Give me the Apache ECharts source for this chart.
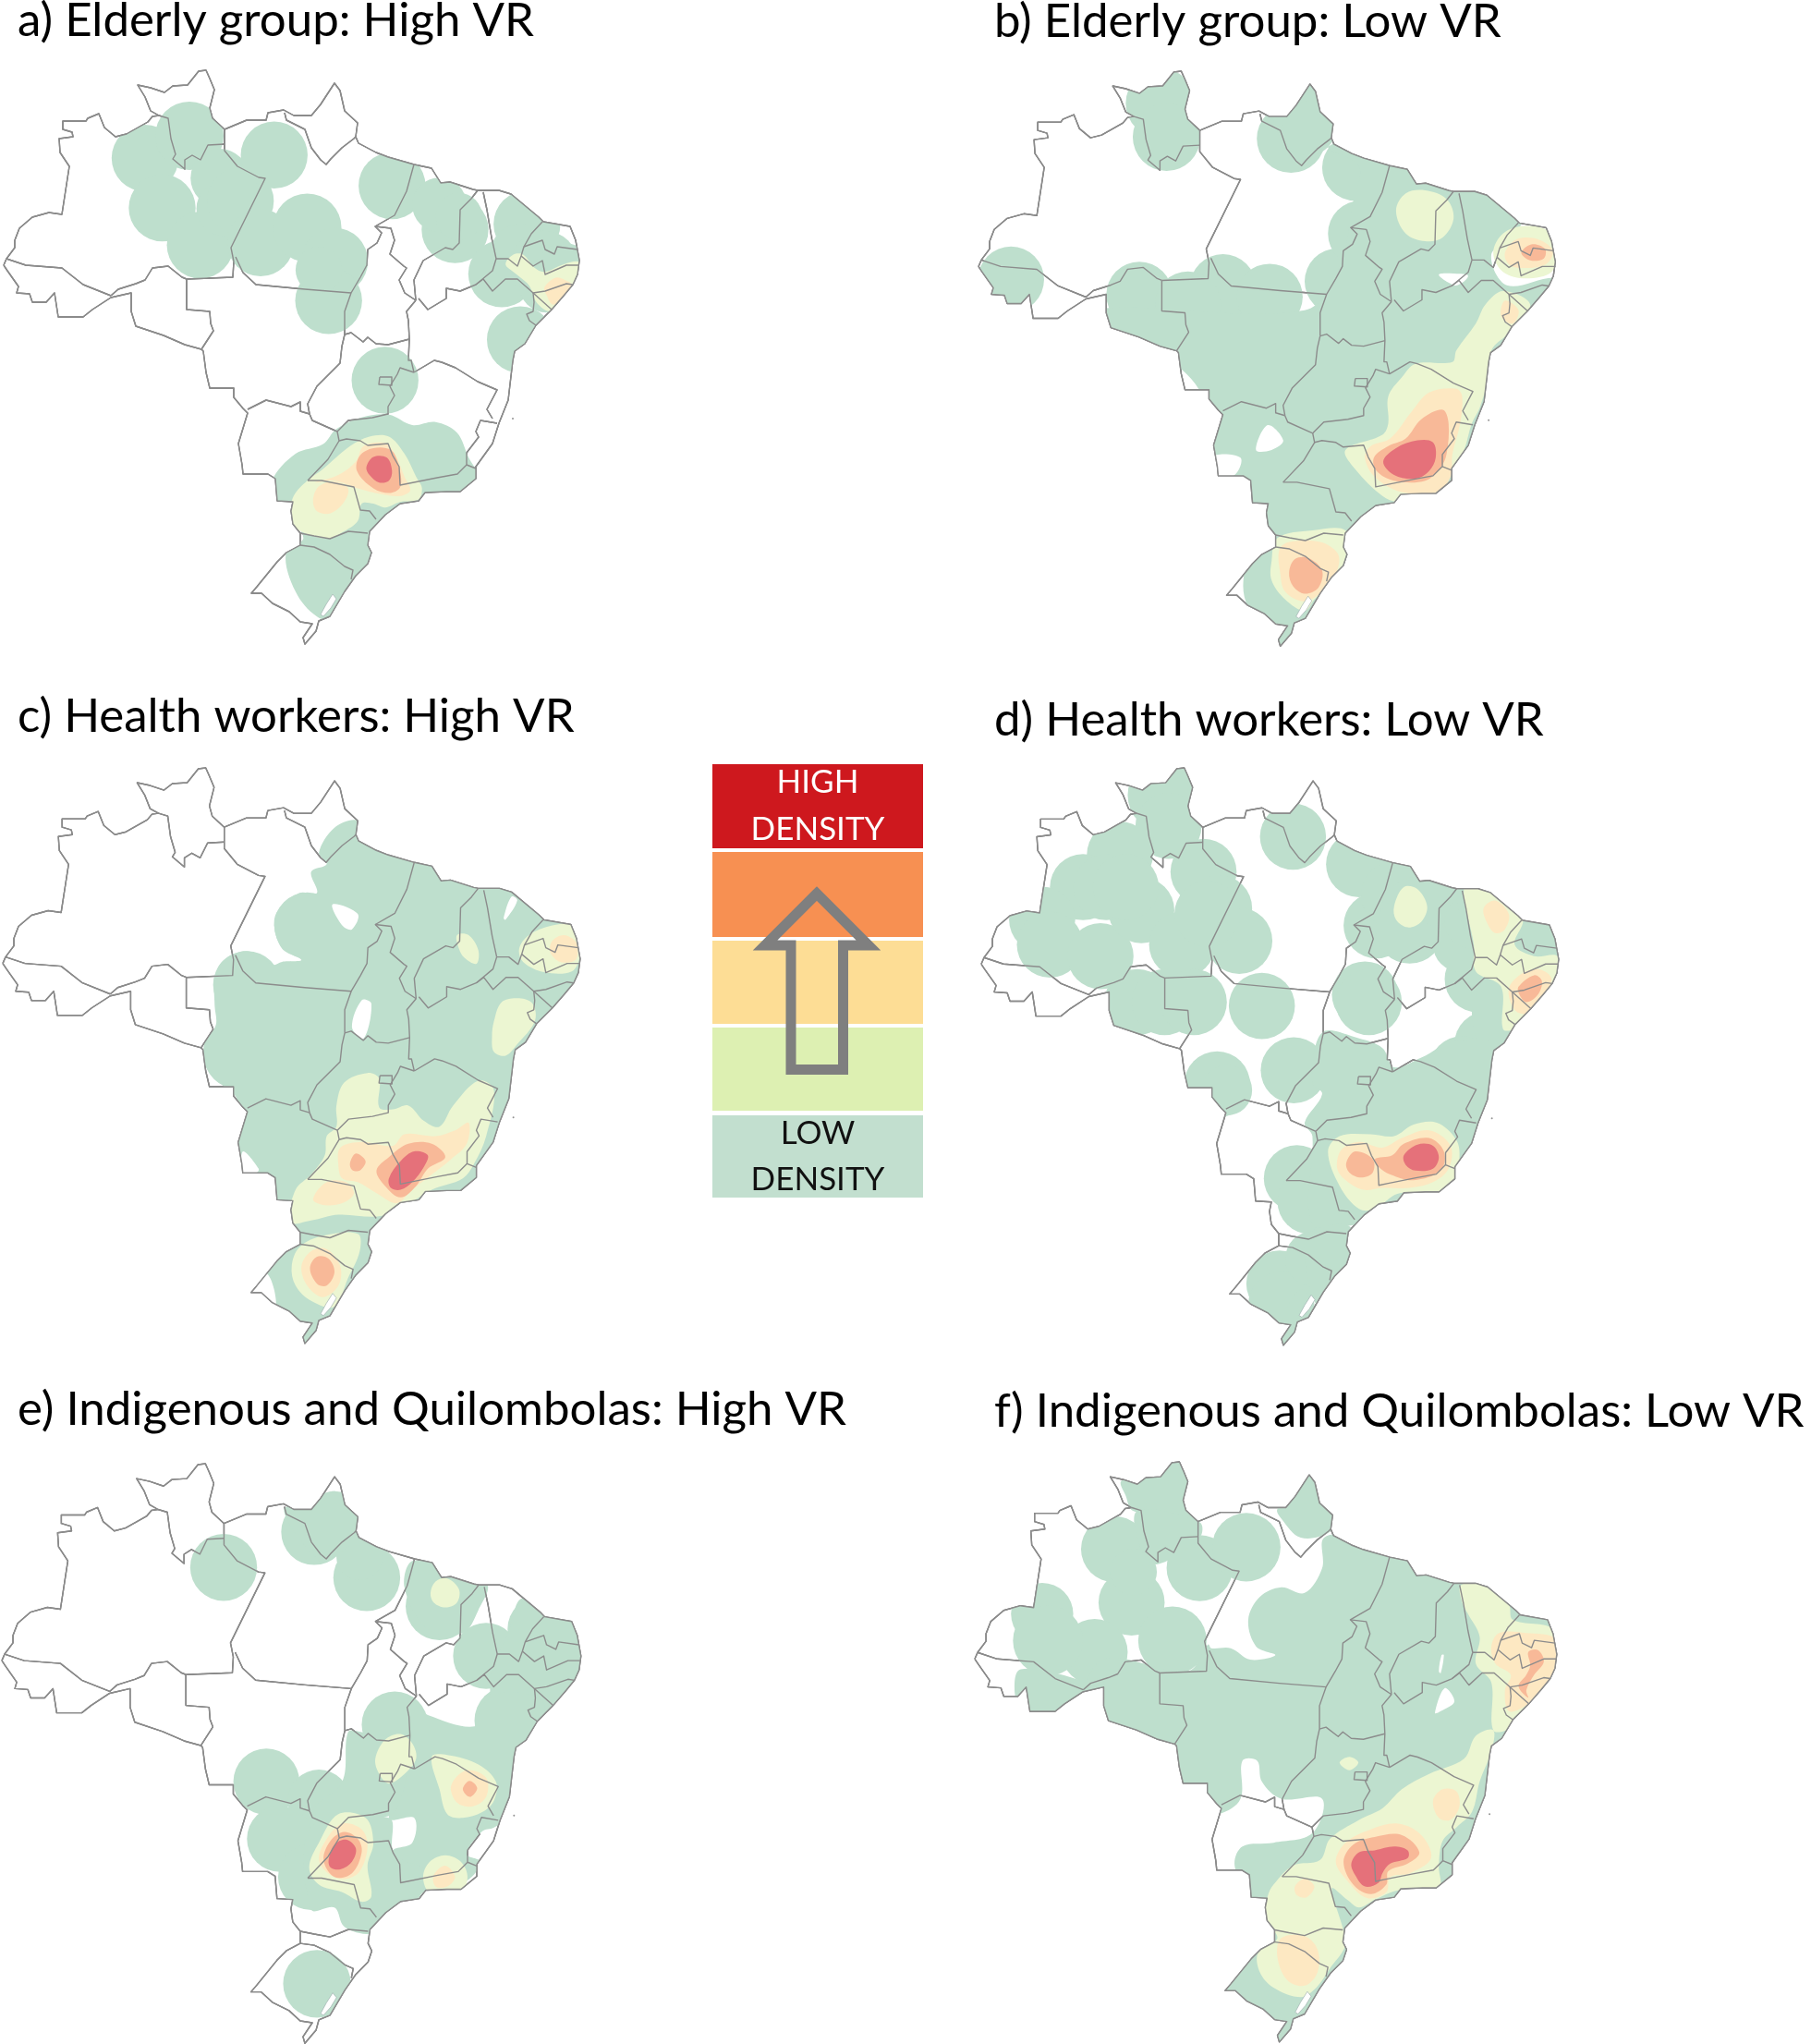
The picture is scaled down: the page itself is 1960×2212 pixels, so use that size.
<!DOCTYPE html>
<html><head><meta charset="utf-8">
<style>html,body{margin:0;padding:0;background:#fff}#c{width:1960px;height:2212px}</style>
<script src="https://cdn.jsdelivr.net/npm/echarts@6/dist/echarts.min.js"></script>
</head><body><div id="c"></div>
<script>
// ---------- titles and legend ----------
const panelTitles = ['a) Elderly group: High VR','b) Elderly group: Low VR','c) Health workers: High VR','d) Health workers: Low VR','e) Indigenous and Quilombolas: High VR','f) Indigenous and Quilombolas: Low VR'];
const legendColors = ['#CE181E','#F79052','#FDDD95','#DDF0B2','#C2DFCF'];
const legendLabels = ['HIGH\nDENSITY','','','','LOW\nDENSITY'];
const densityColors = {'-1':'#ffffff',0:'#BEDFCD',1:'#ECF6D2',2:'#FDE8C2',3:'#F8B998',4:'#E5717A'};

// ---------- base map of Brazil (map units) ----------
const brazilOutline = [[4,287],[7,280],[16,268],[16,260],[21,247],[35,235],[53,230],[67,232],[75,180],[65,165],[64,150],[79,148],[78,143],[68,140],[68,131],[93,131],[95,128],[107,123],[113,138],[125,148],[137,145],[160,132],[165,126],[172,125],[163,120],[157,105],[149,92],[163,95],[178,100],[187,93],[203,92],[215,77],[223,76],[227,85],[232,97],[227,117],[230,128],[243,140],[267,130],[288,130],[290,122],[307,119],[318,125],[337,125],[347,113],[362,90],[368,98],[373,120],[387,133],[385,148],[388,155],[407,165],[420,170],[448,178],[467,182],[477,198],[487,197],[512,205],[517,206],[540,206],[553,210],[583,235],[588,240],[617,245],[623,260],[627,282],[625,297],[620,308],[610,320],[597,335],[580,352],[568,372],[557,380],[555,390],[550,433],[540,458],[533,480],[515,505],[515,518],[498,532],[483,532],[460,533],[453,542],[433,545],[417,557],[400,575],[398,590],[402,598],[398,610],[385,623],[373,640],[357,667],[345,672],[342,683],[330,697],[328,690],[338,675],[325,673],[313,662],[295,653],[283,642],[272,642],[278,635],[300,608],[310,598],[325,590],[325,577],[317,567],[315,553],[317,543],[300,542],[298,518],[290,513],[263,513],[262,503],[258,480],[268,447],[263,442],[253,430],[253,420],[227,420],[223,403],[220,380],[218,378],[200,373],[177,363],[147,353],[142,337],[142,317],[120,322],[100,335],[90,343],[63,343],[59,317],[50,327],[35,327],[32,318],[18,317],[20,310],[8,293],[4,287]];
const stateBorders = [
 [[7,280],[28,287],[67,290],[90,308],[120,320]],
 [[120,320],[128,313],[147,307],[157,303],[165,290],[182,288],[197,300],[202,302]],
 [[202,302],[252,300],[253,283],[250,268],[287,193],[280,192],[257,180],[243,163],[243,140]],
 [[172,125],[182,128],[185,150],[190,167],[187,172],[200,183],[200,173],[208,168],[217,173],[225,157],[243,156]],
 [[202,302],[202,335],[227,337],[228,350],[231,358],[218,378]],
 [[255,278],[263,295],[277,308],[330,313],[380,317]],
 [[308,122],[310,130],[320,135],[330,140],[337,160],[347,173],[353,178],[358,172],[370,160],[383,150],[385,148]],
 [[448,178],[440,207],[427,233],[406,245],[413,252],[408,263],[398,270],[397,287],[390,300],[380,317],[373,337],[373,362]],
 [[406,245],[423,247],[427,260],[422,275],[437,288],[440,290],[432,303],[438,317],[450,325]],
 [[517,206],[510,215],[498,227],[497,263],[490,270],[482,268],[458,282],[448,303],[450,325]],
 [[523,208],[527,227],[532,257],[537,280]],
 [[453,323],[463,335],[483,323],[483,312],[498,315],[515,308],[533,293],[537,280]],
 [[587,240],[575,253],[567,267],[564,277],[560,288],[550,280],[537,280]],
 [[567,267],[587,260],[590,270],[600,275],[603,267],[625,270]],
 [[564,277],[577,288],[587,282],[590,297],[613,287],[627,287]],
 [[515,308],[523,302],[533,315],[547,302],[560,302],[577,317],[590,315],[613,307],[620,308]],
 [[577,317],[578,327],[577,337],[570,340],[573,347],[580,352]],
 [[577,317],[597,335]],
 [[450,325],[440,337],[442,347],[443,367],[442,390],[445,390],[448,403]],
 [[373,362],[380,360],[393,370],[398,365],[407,372],[420,373],[443,367]],
 [[373,362],[370,375],[368,393],[343,418],[333,437],[335,448]],
 [[335,448],[325,445],[325,435],[315,440],[288,433],[268,443]],
 [[335,448],[338,455],[365,467]],
 [[365,467],[377,455],[403,452],[420,448],[420,440],[427,428],[422,418],[430,405],[433,398],[448,403]],
 [[411,408],[424,408],[424,417],[410,416],[411,408]],
 [[448,403],[470,390],[478,392],[493,398],[517,413],[538,422],[527,443],[533,453]],
 [[538,458],[520,455],[515,467],[518,473],[505,490],[505,503],[515,507]],
 [[365,467],[367,477],[355,497],[333,520]],
 [[367,477],[375,475],[390,477],[398,482],[420,480],[425,493],[432,505],[433,525],[443,523],[473,517],[495,513],[505,503]],
 [[333,520],[348,520],[383,527],[390,552],[400,553],[407,562]],
 [[325,577],[340,580],[357,583],[377,575],[398,577]],
 [[325,590],[340,592],[357,600],[373,613],[382,617],[380,627]]
];
const lagoon = [[360,643],[364,648],[358,658],[350,667],[347,665],[353,654]];
const oceanIslands = [[666,225],[555,453]];

// ---------- density zones, one set per panel ----------
// circles: [x, y, radius]; zones: [level, x1, y1, x2, y2, ...]
const circlesA = [[373,268,86],[487,210,88],[417,398,86],[515,495,86],[565,320,75],[575,400,70],[618,380,86],[670,489,86],[705,260,86],[790,450,88],[860,537,86],[845,640,86],[820,560,60],[1008,340,86],[1170,455,86],[1130,390,70],[1180,420,60],[1290,570,86],[1355,440,86],[1340,520,80],[1400,545,86],[1405,600,70],[1338,742,86],[1450,560,70],[990,848,86]];
const zonesA = [
 [0,700,1110,760,1040,830,1015,865,975,930,945,1000,938,1060,965,1120,957,1175,985,1205,1050,1240,1120,1190,1170,1000,1250,960,1400,880,1480,815,1465,760,1400,735,1300,780,1260,740,1200,712,1165],
 [1,745,1200,755,1150,790,1110,830,1080,900,1020,950,995,1000,995,1040,1040,1070,1100,1085,1130,1075,1160,1030,1165,990,1180,960,1170,930,1170,920,1215,880,1245,850,1260,790,1250,745,1220],
 [2,810,1115,870,1095,915,1060,935,1020,990,1012,1015,1040,1040,1100,1055,1135,1030,1150,980,1145,920,1130,860,1110],
 [2,805,1160,820,1125,860,1112,895,1130,885,1165,850,1195,815,1190],
 [3,918,1085,925,1045,960,1025,1005,1030,1025,1070,1030,1125,1005,1142,960,1130],
 [4,942,1075,960,1048,995,1050,1008,1085,1000,1110,975,1115,950,1095],
 [1,1300,545,1320,520,1345,520,1375,555,1400,565,1450,545,1490,540,1485,580,1440,640,1415,668,1380,645,1360,600,1320,565],
 [2,1400,605,1430,580,1460,590,1470,600,1440,640,1420,650,1405,625]
];
const circlesB = [[490,125,90],[505,213,87],[105,585,85],[825,217,88],[860,130,90],[870,190,70],[990,293,85],[435,625,85],[650,605,85],[770,630,85],[560,650,85],[945,590,85],[1005,465,85]];
const zonesB = [
 [0,345,660,860,665,950,550,985,380,1000,290,920,240,1000,230,1250,330,1420,400,1400,470,1340,520,1380,600,1500,580,1600,600,1400,800,1400,1000,1300,1200,1000,1300,1000,1560,800,1560,715,1440,702,1380,720,1310,770,1280,700,1200,600,1100,600,900,520,800,345,700],
 [-1,620,1048,695,1050,680,1095,620,1105],
 [-1,735,1030,765,965,805,1005,775,1030],
 [-1,1205,572,1245,600,1270,590,1280,575,1260,570],
 [1,1095,405,1120,360,1170,352,1225,375,1243,425,1215,475,1170,485,1120,465],
 [1,1345,515,1370,465,1425,445,1490,460,1505,515,1495,565,1430,582,1370,565],
 [1,965,1030,1060,990,1075,960,1075,890,1110,840,1145,805,1240,800,1250,770,1300,700,1325,650,1370,615,1440,650,1390,720,1340,770,1330,850,1310,920,1290,960,1270,1030,1240,1090,1200,1150,1100,1165,1060,1150,990,1080],
 [1,775,1320,790,1260,880,1240,965,1240,965,1310,930,1380,885,1420,860,1450,810,1420,775,1370],
 [2,1375,515,1405,480,1460,480,1498,510,1480,545,1420,555,1385,545],
 [2,1030,1020,1080,1000,1135,930,1180,880,1250,870,1265,890,1260,960,1240,1040,1235,1100,1200,1140,1110,1140,1040,1100,1015,1050],
 [2,1375,640,1410,665,1395,700,1365,680],
 [2,795,1290,820,1270,900,1270,945,1300,945,1340,915,1390,860,1425,810,1400,797,1350],
 [3,1417,515,1445,493,1478,505,1475,530,1440,535],
 [3,1038,1050,1075,1020,1120,1000,1160,950,1215,925,1230,960,1225,1040,1210,1075,1170,1110,1090,1110,1045,1085],
 [3,820,1350,835,1315,870,1312,905,1345,895,1390,860,1405,830,1385],
 [4,1062,1060,1095,1025,1150,1005,1190,1010,1197,1050,1180,1085,1145,1105,1090,1095]
];
const circlesC = [[790,450,85],[635,605,87],[610,790,85]];
const zonesC = [
 [0,840,290,800,310,815,365,770,365,715,410,705,450,725,510,775,540,725,545,700,553,665,525,620,518,570,545,552,590,552,660,555,710,525,760,530,820,570,865,610,905,600,1000,600,1100,700,1170,720,1180,740,1200,700,1260,640,1400,700,1480,780,1560,900,1560,1000,1300,1200,1200,1400,1000,1400,800,1560,600,1560,430,1400,400,1250,330,1000,240,920,210,915,175,860,195,820,260],
 [-1,855,395,920,420,905,460,880,450],
 [-1,1300,435,1330,385,1315,375,1295,430],
 [-1,930,645,955,655,935,745,905,715],
 [-1,625,1040,665,1085,660,1095,625,1095],
 [-1,640,1400,685,1358,710,1440,680,1440],
 [1,1175,475,1205,475,1230,515,1225,550,1195,535,1180,510],
 [1,1335,510,1360,475,1420,450,1480,450,1490,530,1470,570,1400,572,1345,545],
 [1,1270,700,1290,650,1335,640,1370,655,1375,700,1330,760,1300,790,1270,780,1265,740],
 [1,865,920,885,860,945,835,975,850,975,925,1010,930,1050,920,1090,960,1130,975,1165,920,1230,855,1270,880,1250,1000,1220,1070,1190,1110,1110,1140,1030,1190,970,1210,870,1205,800,1220,745,1225,760,1140,800,1100,835,1050,840,1000,865,975],
 [1,750,1340,770,1290,830,1260,920,1255,925,1300,895,1370,860,1445,800,1430,760,1390],
 [2,1420,490,1450,475,1482,495,1480,540,1440,545,1415,520],
 [2,870,1075,875,1030,930,1015,1010,1025,1040,995,1120,1000,1170,985,1205,965,1200,1020,1160,1060,1110,1100,1060,1140,1020,1175,970,1150,920,1120,880,1110],
 [2,805,1165,840,1120,890,1120,910,1150,880,1175,835,1180],
 [2,775,1340,800,1300,840,1295,875,1340,870,1390,830,1420,790,1390],
 [3,900,1070,915,1045,940,1065,925,1090,905,1088],
 [3,968,1090,1000,1055,1050,1020,1110,1020,1145,1055,1100,1085,1070,1130,1030,1160,990,1130],
 [3,797,1345,815,1315,845,1320,860,1355,840,1390,815,1385],
 [4,1000,1110,1030,1065,1065,1040,1100,1050,1090,1080,1060,1120,1030,1140,1005,1135]
];
const circlesD = [[830,218,85],[500,110,95],[510,190,85],[385,265,85],[290,350,85],[185,435,85],[205,500,85],[335,530,85],[440,410,85],[350,350,85],[400,350,85],[545,500,85],[600,310,85],[640,405,85],[692,490,85],[610,420,85],[430,650,85],[500,650,85],[575,650,85],[750,660,85],[635,865,85],[660,880,65],[832,828,85],[1000,290,85],[1045,450,85],[1090,370,85],[1150,420,95],[1130,460,88],[1200,380,70],[1305,590,85],[1260,500,70],[1290,440,70],[1330,760,85],[1265,825,85],[1015,630,85],[1025,650,85],[840,1110,85],[875,1170,85],[795,1385,85],[800,1440,85],[880,1320,70]];
const zonesD = [
 [0,1260,340,1540,500,1540,700,1400,800,1330,800,1290,680,1320,560,1270,460],
 [0,860,965,905,890,880,860,905,730,1000,745,1060,770,1090,820,1160,795,1250,750,1400,780,1400,1000,1300,1200,1000,1230,880,1230,880,1000],
 [0,875,1250,980,1240,980,1400,900,1450,860,1320],
 [0,800,1480,850,1400,880,1450,830,1540,790,1540],
 [1,1090,400,1115,350,1150,355,1175,400,1160,440,1125,455,1095,435],
 [1,1270,350,1320,355,1420,430,1400,500,1450,530,1510,530,1510,590,1470,660,1400,720,1370,720,1365,610,1300,570,1295,500],
 [1,920,1040,950,1000,1030,995,1090,1000,1140,970,1200,965,1250,1010,1258,1060,1245,1120,1200,1145,1100,1150,1040,1190,1000,1190,950,1130],
 [2,1320,405,1350,385,1385,420,1375,460,1350,470,1330,445],
 [2,1385,615,1420,575,1465,565,1495,590,1470,640,1430,680,1400,670],
 [2,943,1080,955,1035,1000,1015,1060,1030,1110,1005,1180,985,1235,1025,1230,1085,1190,1120,1130,1135,1060,1135,1010,1140,960,1110],
 [3,1410,610,1450,580,1470,595,1460,630,1430,650,1412,630],
 [3,967,1070,990,1040,1035,1060,1035,1095,1005,1108,975,1095],
 [3,1040,1060,1085,1050,1115,1020,1180,1005,1218,1040,1210,1090,1140,1115,1080,1100,1050,1080],
 [4,1115,1050,1150,1022,1190,1025,1205,1055,1190,1085,1145,1090,1120,1075]
];
const circlesE = [[575,318,86],[808,225,85],[860,200,80],[943,345,86],[925,290,60],[1130,420,87],[1250,550,85],[1390,480,85],[1015,730,85],[1310,720,90],[685,880,85],[820,930,80],[720,1030,85],[800,1130,85],[815,1410,87]];
const zonesE = [
 [0,730,165,825,160,845,122,870,122,925,180,925,230,860,290,820,300],
 [0,1040,370,1065,300,1250,360,1230,430,1190,490,1100,480],
 [0,1310,480,1340,400,1400,430,1500,470,1520,620,1400,700,1340,780,1300,800,1260,620],
 [0,1070,680,1100,705,1220,735,1240,680,1300,645,1400,680,1340,950,1270,1000,1240,1010,1200,1070,1235,1090,1200,1140,1090,1170,1060,1180,1030,1090,1010,1060,1060,1040,1065,975,1000,975],
 [0,895,750,930,750,1015,770,1050,800,1015,960,950,975,830,1000,800,960,880,880],
 [0,800,1000,1000,975,1010,1060,1035,1085,1090,1110,1080,1180,970,1260,950,1280,885,1260,860,1210,800,1215],
 [1,965,820,990,770,1030,755,1060,780,1070,820,1040,860,1000,885,975,860],
 [1,1110,815,1150,810,1230,835,1275,880,1270,930,1240,960,1190,975,1150,965,1130,900],
 [1,1088,1130,1105,1090,1145,1073,1185,1090,1202,1130,1185,1170,1105,1170],
 [1,795,1105,820,1040,870,965,940,975,960,1040,945,1100,955,1180,930,1195,880,1170,820,1150],
 [2,1160,890,1200,850,1250,870,1250,920,1215,945,1175,935],
 [2,1115,1125,1145,1100,1170,1130,1150,1155,1120,1155],
 [2,820,1085,840,1030,880,990,930,1005,945,1050,925,1115,890,1135,850,1125],
 [3,1190,900,1207,878,1227,897,1208,920],
 [3,832,1085,850,1035,885,1012,920,1030,930,1065,905,1120,860,1130],
 [4,845,1085,860,1045,890,1032,915,1055,905,1090,875,1110,850,1105],
 [1,1107,385,1120,355,1150,347,1180,375,1175,410,1145,423,1115,410]
];
const circlesF = [[370,270,85],[415,410,85],[590,320,85],[710,265,88],[520,510,88],[320,540,85],[185,440,80],[200,510,90],[420,330,60]];
const zonesF = [
 [0,390,90,550,40,590,200,420,170,400,130],
 [0,430,170,590,200,590,240,480,310,440,270],
 [0,115,650,130,585,300,620,300,640,240,690,140,695],
 [0,790,165,870,70,940,180,925,225,850,240,800,190],
 [0,910,240,905,320,860,385,800,370,745,395,715,455,735,525,785,548,720,560,670,530,620,530,612,520,560,590,340,560,300,700,480,820,590,960,640,965,695,925,700,825,738,825,750,880,800,925,905,925,880,1015,780,1040,700,1050,680,1100,720,1190,770,1190,740,1280,650,1420,780,1560,950,1560,1400,1000,1560,700,1560,450,1270,340,1000,240],
 [-1,1212,548,1218,548,1210,595,1205,590],
 [-1,1195,700,1220,635,1245,670,1210,695],
 [1,950,830,975,815,998,830,975,850],
 [1,1262,365,1330,358,1385,415,1395,455,1500,480,1515,560,1480,650,1400,710,1390,740,1345,745,1340,620,1300,570,1310,500,1280,440,1265,410],
 [1,780,1150,830,1100,900,1085,925,1030,1000,980,1060,950,1110,900,1180,860,1270,820,1300,760,1345,745,1340,800,1310,880,1290,960,1250,1000,1215,1035,1205,1100,1205,1160,1100,1165,1040,1190,1000,1210,970,1190,930,1160,960,1270,965,1310,925,1370,890,1420,850,1445,780,1420,745,1380,740,1330,790,1290,755,1240,765,1180],
 [2,1340,525,1360,490,1430,490,1505,505,1508,570,1470,640,1430,680,1385,695,1375,640,1390,600,1350,570],
 [2,1190,930,1215,900,1250,905,1258,945,1235,980,1205,975],
 [2,835,1155,860,1135,885,1155,865,1183,840,1178],
 [2,790,1340,800,1290,860,1285,893,1320,893,1380,860,1415,815,1400],
 [2,940,1090,965,1040,1030,1005,1100,990,1160,1020,1185,1080,1130,1120,1080,1130,1070,1170,1020,1185,970,1140],
 [3,1435,540,1460,535,1475,565,1450,600,1430,640,1435,660,1410,630,1430,600,1440,575],
 [3,960,1090,985,1045,1040,1025,1110,1020,1155,1065,1125,1095,1075,1115,1070,1150,1030,1175,985,1150],
 [4,980,1095,1000,1065,1040,1060,1090,1050,1125,1060,1125,1080,1080,1095,1060,1120,1050,1145,1015,1155,990,1125]
];
const panelCircles = [circlesA,circlesB,circlesC,circlesD,circlesE,circlesF];
const panelZones = [zonesA,zonesB,zonesC,zonesD,zonesE,zonesF];

// ---------- layout ----------
const FONT = 'Lato';
const UNIT = 1568;
const frames = [
 {crop:[0,60,660,650],    map:[4,76,1,1]},
 {crop:[1050,60,660,650], map:[1059,77,1.002,1.002]},
 {crop:[0,815,660,650],   map:[3,831,1.003,1.003]},
 {crop:[1050,815,660,650],map:[1062,831,1.003,1.006]},
 {crop:[0,1565,660,647],  map:[2,1584,1.006,1.01]},
 {crop:[1050,1565,660,647],map:[1055,1582,1.011,1.011]}
];
const titlePos = [[19,-3],[1076,-2],[19,750],[1076,754],[19,1500],[1076,1502]];
const toUnits = (f,p)=>[((f.map[0]+(p[0]-4)*f.map[2])-f.crop[0])/f.crop[2]*UNIT, ((f.map[1]+(p[1]-76)*f.map[3])-f.crop[1])/f.crop[3]*UNIT];

const grids=[],xAxes=[],yAxes=[],series=[];
frames.forEach((f,i)=>{
  grids.push({left:f.crop[0],top:f.crop[1],width:f.crop[2],height:f.crop[3],containLabel:false});
  xAxes.push({gridIndex:i,type:'value',min:0,max:UNIT,show:false});
  yAxes.push({gridIndex:i,type:'value',min:0,max:UNIT,inverse:true,show:false});
  const circles=panelCircles[i], zones=panelZones[i];
  const shapes=[...circles.map(c=>({c})),...zones.map(z=>({z}))];
  const lines=[{k:'out',p:brazilOutline},...stateBorders.map(p=>({k:'st',p}))];
  // dark map lines under the density surface
  series.push({type:'custom',coordinateSystem:'cartesian2d',xAxisIndex:i,yAxisIndex:i,silent:true,z:1,
    data:lines.map((_,k)=>[k,k]),animation:false,
    renderItem(params,api){
      const pts=lines[params.dataIndex].p.map(p=>api.coord(toUnits(f,p)));
      return {type:'polyline',shape:{points:pts},style:{fill:null,stroke:'#666',lineWidth:1.4,lineJoin:'round'}};
    }});
  series.push({type:'custom',coordinateSystem:'cartesian2d',xAxisIndex:i,yAxisIndex:i,silent:true,z:2,
    data:shapes.map((_,k)=>[k,k]),animation:false,
    renderItem(params,api){
      const s=shapes[params.dataIndex];
      const clip={type:'polygon',shape:{points:brazilOutline.map(p=>api.coord(toUnits(f,p)))}};
      if(s.c){
        const o=api.coord([s.c[0],s.c[1]]);
        return {type:'circle',shape:{cx:o[0],cy:o[1],r:api.size([s.c[2],0])[0]},style:{fill:densityColors[0]},clipPath:clip};
      }
      const pts=[];for(let k=1;k<s.z.length;k+=2)pts.push(api.coord([s.z[k],s.z[k+1]]));
      return {type:'polygon',shape:{points:pts,smooth:0.35},style:{fill:densityColors[s.z[0]]},clipPath:clip};
    }});
  // translucent-looking map lines over the density surface
  const over=[{k:'lagoon',p:lagoon},...lines];
  series.push({type:'custom',coordinateSystem:'cartesian2d',xAxisIndex:i,yAxisIndex:i,silent:true,z:3,
    data:over.map((_,k)=>[k,k]),animation:false,
    renderItem(params,api){
      const l=over[params.dataIndex];
      const pts=l.p.map(p=>api.coord(toUnits(f,p)));
      if(l.k==='lagoon')return {type:'polygon',shape:{points:pts},style:{fill:'#fff',stroke:'#9aa',lineWidth:.6}};
      return {type:'polyline',shape:{points:pts},style:{fill:null,stroke:'#8c8c8c',lineWidth:1.4,lineJoin:'round',blend:'multiply'}};
    }});
  series.push({type:'scatter',xAxisIndex:i,yAxisIndex:i,symbolSize:2,silent:true,z:3,animation:false,
    itemStyle:{color:'#777'},data:oceanIslands.map(p=>toUnits(f,p))});
});

const titles=panelTitles.map((t,i)=>({text:t,left:titlePos[i][0],top:titlePos[i][1],padding:0,
  textStyle:{fontFamily:FONT,fontSize:51,fontWeight:'normal',color:'#000'}}));

const legendRects=[[827,91],[922,92],[1018,90],[1112,90],[1207,89]];
const graphic=[];
legendColors.forEach((c,i)=>{
  graphic.push({type:'rect',silent:true,z:5,shape:{x:771,y:legendRects[i][0],width:228,height:legendRects[i][1]},style:{fill:c}});
  if(legendLabels[i])legendLabels[i].split('\n').forEach((s,j)=>{
    const y=(i===0?[847,898]:[1227,1277])[j];
    graphic.push({type:'text',silent:true,z:7,style:{text:s,x:885,y,align:'center',verticalAlign:'middle',fontFamily:FONT,fontSize:35,fill:i===0?'#fff':'#111'}});
  });
});
graphic.push({type:'polygon',silent:true,z:6,shape:{points:[[884,967],[828,1023],[856,1023],[856,1157.5],[912.5,1157.5],[912.5,1023],[940,1023]]},
  style:{fill:null,stroke:'#7F7F7F',lineWidth:11,lineJoin:'miter',miterLimit:4}});

const chart=echarts.init(document.getElementById('c'),null,{renderer:'canvas'});
chart.setOption({animation:false,backgroundColor:'#fff',title:titles,grid:grids,xAxis:xAxes,yAxis:yAxes,series,graphic});
</script></body></html>
